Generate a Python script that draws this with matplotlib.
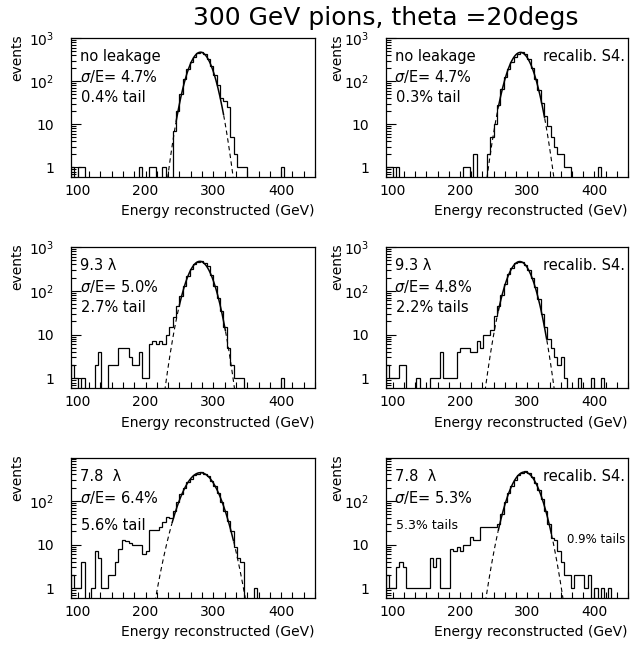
import numpy as np
import matplotlib
matplotlib.use('Agg')
import matplotlib.pyplot as plt
from matplotlib.ticker import FixedLocator, FixedFormatter, LogLocator, NullFormatter

plt.rcParams['font.family'] = 'DejaVu Sans'
plt.rcParams['mathtext.fontset'] = 'dejavusans'

# 5 GeV bins from 90 to 450 GeV (72 bins), 12 bins per row below
edges = np.arange(90, 455, 5)

# counts
counts_a = [1, 0, 1, 1, 0, 0, 0, 0, 0, 0, 0, 0,
            0, 0, 0, 0, 0, 0, 0, 0, 1, 0, 0, 1,
            1, 0, 0, 1, 0, 0, 7, 20, 50, 110, 190, 280,
            370, 440, 480, 420, 330, 220, 140, 80, 40, 35, 25, 5,
            2, 1, 1, 1, 0, 0, 0, 0, 0, 0, 0, 0,
            0, 0, 1, 0, 0, 0, 0, 0, 0, 0, 0, 0]
counts_b = [1, 1, 0, 1, 0, 0, 0, 0, 0, 0, 0, 0,
            0, 0, 0, 0, 0, 0, 0, 0, 0, 0, 0, 1,
            1, 0, 2, 0, 0, 0, 2, 5, 10, 28, 65, 125,
            195, 280, 360, 430, 470, 420, 320, 200, 110, 63, 32, 16,
            9, 5, 3, 2, 2, 1, 1, 0, 0, 0, 0, 0,
            0, 0, 0, 1, 0, 0, 0, 0, 0, 0, 0, 0]
counts_c = [2, 1, 0, 1, 0, 0, 0, 2, 4, 0, 0, 2,
            2, 2, 5, 5, 5, 3, 2, 2, 4, 1, 1, 6,
            7, 6, 7, 6, 10, 15, 25, 45, 75, 130, 220, 320,
            400, 450, 480, 440, 370, 230, 130, 70, 35, 15, 5, 2,
            1, 1, 1, 0, 0, 0, 0, 0, 0, 0, 0, 0,
            0, 0, 1, 0, 0, 0, 0, 0, 0, 0, 0, 0]
counts_d = [2, 1, 1, 1, 2, 2, 0, 0, 0, 1, 0, 0,
            0, 1, 1, 1, 4, 1, 1, 1, 1, 4, 5, 5,
            5, 4, 4, 7, 5, 10, 10, 13, 26, 45, 80, 145,
            235, 335, 420, 465, 460, 390, 300, 200, 120, 65, 30, 15,
            8, 5, 3, 2, 3, 1, 0, 0, 0, 1, 0, 0,
            0, 1, 0, 0, 1, 0, 0, 0, 0, 0, 0, 0]
counts_e = [2, 1, 1, 4, 0, 0, 1, 7, 5, 1, 1, 2,
            2, 4, 8, 13, 12, 11, 10, 10, 10, 6, 7, 22,
            22, 22, 25, 32, 42, 40, 60, 95, 140, 200, 270, 320,
            385, 400, 460, 400, 360, 290, 220, 150, 95, 60, 35, 20,
            9, 5, 4, 0, 0, 0, 1, 0, 0, 0, 0, 0,
            0, 0, 0, 0, 0, 0, 0, 0, 0, 0, 0, 0]
counts_f = [2, 1, 1, 3, 4, 3, 1, 1, 1, 1, 1, 1,
            1, 5, 3, 5, 1, 1, 1, 8, 7, 9, 7, 10,
            10, 15, 13, 13, 25, 25, 25, 25, 25, 30, 50, 95,
            150, 220, 300, 380, 440, 470, 430, 350, 260, 175, 110, 60,
            30, 14, 13, 7, 4, 2, 2, 1, 2, 2, 2, 1,
            2, 0, 1, 0, 1, 0, 1, 0, 0, 0, 0, 0]

# gaussian fits: amplitude, mean, sigma, solid (fit) range
fit_amp = [470, 465, 470, 465, 440, 455]
fit_mean = [281, 290, 280, 289, 281, 296]
fit_sigma = [13.2, 13.6, 14.0, 14.0, 18.2, 15.7]
fit_lo = [245, 257, 250, 257, 239, 257]
fit_hi = [315, 326, 318, 329, 330, 336]

# labels in each panel
line1 = ['no leakage', 'no leakage', '9.3 λ', '9.3 λ', '7.8  λ', '7.8  λ']
line2 = [r'$\sigma$/E= 4.7%', r'$\sigma$/E= 4.7%', r'$\sigma$/E= 5.0%',
         r'$\sigma$/E= 4.8%', r'$\sigma$/E= 6.4%', r'$\sigma$/E= 5.3%']
line3 = ['0.4% tail', '0.3% tail', '2.7% tail', '2.2% tails', '5.6% tail', '5.3% tails']

all_counts = [counts_a, counts_b, counts_c, counts_d, counts_e, counts_f]

fig = plt.figure(figsize=(6.31, 6.47), dpi=100)
fig.text(0.306, 0.972, '300 GeV pions, theta =20degs', fontsize=18,
         ha='left', va='center')

lefts = [0.1125, 0.6117]
widths = [0.3867, 0.3835]
bottoms = [0.7264, 0.4003, 0.0757]
heights = [0.2148, 0.218, 0.2164]
ymaxs = [1000, 1000, 950]

for i in range(6):
    row, col = i // 2, i % 2
    ax = fig.add_axes([lefts[col], bottoms[row], widths[col], heights[row]])
    c = np.array(all_counts[i], dtype=float)
    c_draw = np.where(c > 0, c, 0.01)   # empty bins sit on the bottom of the frame
    ax.stairs(c_draw, edges, color='black', lw=0.9, baseline=0.01)

    # fitted gaussian: solid inside fit range, dashed outside
    A, m, s = fit_amp[i], fit_mean[i], fit_sigma[i]
    xx = np.linspace(m - 5 * s, m + 5 * s, 500)
    yy = A * np.exp(-(xx - m) ** 2 / (2 * s * s))
    inside = (xx >= fit_lo[i]) & (xx <= fit_hi[i])
    ax.plot(xx[inside], yy[inside], color='black', lw=1.1)
    ax.plot(xx[xx <= fit_lo[i]], yy[xx <= fit_lo[i]], color='black', lw=0.8, ls=(0, (4, 3)))
    ax.plot(xx[xx >= fit_hi[i]], yy[xx >= fit_hi[i]], color='black', lw=0.8, ls=(0, (4, 3)))

    ax.set_yscale('log')
    ax.set_xlim(90, 450)
    ax.set_ylim(0.6, ymaxs[row])

    ax.yaxis.set_major_locator(FixedLocator([1, 10, 100, 1000]))
    ax.yaxis.set_major_formatter(FixedFormatter(['1', '10', r'$10^2$', r'$10^3$']))
    ax.yaxis.set_minor_locator(LogLocator(base=10, subs=np.arange(2, 10)))
    ax.yaxis.set_minor_formatter(NullFormatter())
    ax.xaxis.set_major_locator(FixedLocator([100, 200, 300, 400]))
    ax.xaxis.set_minor_locator(FixedLocator([100 + k * 100 / 6 for k in range(22)]))

    ax.tick_params(axis='both', which='both', direction='in', top=False, right=False,
                   labelsize=10, width=0.8)
    ax.tick_params(axis='y', which='major', length=7, pad=12)
    ax.tick_params(axis='y', which='minor', length=3.5)
    ax.tick_params(axis='x', which='both', length=4, pad=5)
    for sp in ax.spines.values():
        sp.set_linewidth(0.9)

    ax.text(1.0, -0.245, 'Energy reconstructed (GeV)', transform=ax.transAxes,
            ha='right', va='center', fontsize=10)
    ax.text(-0.22 if col == 0 else -0.2, 0.86, 'events', transform=ax.transAxes,
            rotation=90, ha='center', va='center', fontsize=10)

    ax.text(0.037, 0.87, line1[i], transform=ax.transAxes, ha='left', va='center', fontsize=10.5)
    ax.text(0.035, 0.72, line2[i], transform=ax.transAxes, ha='left', va='center', fontsize=10.5)
    small = i == 5
    ax.text(0.04, 0.52 if row == 2 else 0.57, line3[i], transform=ax.transAxes,
            ha='left', va='center', fontsize=9 if small else 10.5)
    if col == 1:
        ax.text(0.65, 0.87, 'recalib. S4.', transform=ax.transAxes, ha='left',
                va='center', fontsize=10.5, clip_on=False)
    if i == 5:
        ax.text(0.75, 0.42, '0.9% tails', transform=ax.transAxes, ha='left',
                va='center', fontsize=8.5, clip_on=False)

fig.savefig('out.png', dpi=100)
